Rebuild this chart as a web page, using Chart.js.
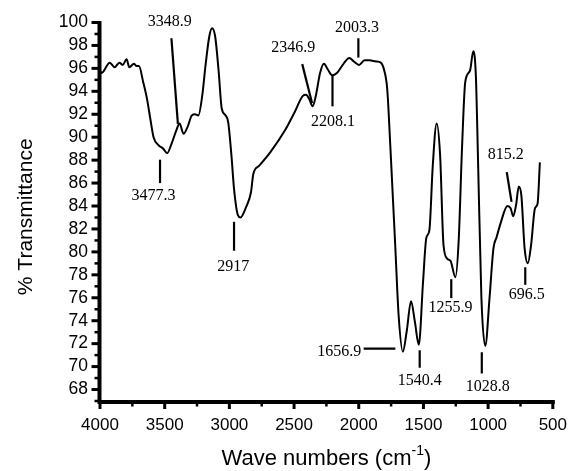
<!DOCTYPE html>
<html>
<head>
<meta charset="utf-8">
<script src="https://cdn.jsdelivr.net/npm/chart.js@4/dist/chart.umd.min.js"></script>
<style>
html,body{margin:0;padding:0;background:#fff;}
#wrap{width:581px;height:471px;}
</style>
</head>
<body>
<div id="wrap"><canvas id="c" width="581" height="471"></canvas></div>
<script>
// Wavenumber (cm-1)
const wavenumbers = [4000,3987,3925,3887,3850,3825,3794,3774,3737,3717,3699,3666,3636,3611,3586,3548,3511,3481,3448,3410,3385,3355,3323,3290,3265,3240,3210,3185,3155,3134,3110,3084,3059,3029,3009,2984,2964,2934,2914,2871,2833,2815,2771,2683,2570,2495,2432,2407,2382,2357,2332,2299,2269,2239,2206,2169,2118,2073,2038,1998,1955,1917,1867,1830,1805,1780,1755,1717,1692,1659,1629,1596,1566,1536,1503,1478,1454,1428,1398,1371,1345,1315,1290,1253,1228,1202,1177,1140,1115,1095,1077,1052,1022,989,959,934,901,851,826,806,784,763,743,718,693,668,638,618,600];
// % Transmittance at each wavenumber
const transmittance = [95.8,95.6,96.5,96.1,96.5,96.3,96.8,96.1,96.4,96.2,96.2,94.8,93.3,91.6,90.0,89.3,89.0,88.6,89.4,90.6,91.2,90.3,90.9,91.9,92.0,91.9,93.6,96.2,98.8,99.5,98.8,95.9,92.5,91.9,91.3,88.4,85.5,83.2,83.0,83.9,85.2,86.8,87.5,88.7,90.6,92.2,93.6,93.7,93.3,92.7,93.6,95.6,96.4,95.9,95.4,95.6,96.4,96.9,96.6,96.3,96.7,96.7,96.6,96.5,95.9,94.2,89.0,80.3,74.5,71.3,73.1,75.7,73.9,71.9,77.4,81.2,81.9,87.5,91.2,88.4,80.6,79.4,79.2,77.8,80.9,89.0,94.8,95.8,97.5,95.4,87.5,76.0,71.8,76.0,80.3,81.3,82.6,84.0,83.8,83.1,84.1,85.7,84.9,80.3,79.0,80.6,83.8,84.2,87.8];

// Tick labels
const xTickLabels = ['4000','3500','3000','2500','2000','1500','1000','500'];
const yTickLabels = ['68','70','72','74','76','78','80','82','84','86','88','90','92','94','96','98','100'];

// Peak annotations
const peakLabels = ['3348.9','3477.3','2917','2346.9','2208.1','2003.3','1656.9','1540.4','1255.9','1028.8','815.2','696.5'];
</script>
<script>
// Annotation geometry in data coordinates: text anchor, leader line start and end
const peakTextAt = [[3460,100.1],[3586,84.9],[2971,78.7],[2507,97.8],[2199,91.3],[2013,99.5],[1981,71.25],[1529,68.8],[1290,75.15],[1002,68.25],[864,88.5],[701,76.3]];
const peakAlign = ['center','center','center','center','center','center','right','center','center','center','center','center'];
const peakLineFrom = [[3448,98.63],[3536,88.04],[2964,82.62],[2437,96.37],[2203,95.36],[2003,98.63],[1962,71.57],[1529,71.42],[1285,77.62],[1049,71.25],[856,86.96],[713,78.66]];
const peakLineTo = [[3398,91.16],[3536,86.0],[2964,80.1],[2361,92.99],[2203,92.69],[2003,96.94],[1717,71.57],[1529,69.9],[1285,75.97],[1049,69.4],[819,84.36],[713,77.13]];

const points = wavenumbers.map((w,i)=>({x:w,y:transmittance[i]}));

const axesPlugin = {
  id:'axesPlugin',
  afterDraw(chart){
    const ctx = chart.ctx;
    const xs = chart.scales.x, ys = chart.scales.y;
    const a = chart.chartArea;
    ctx.save();
    ctx.strokeStyle = '#000';
    ctx.fillStyle = '#000';
    // axis lines
    const ax = a.left - 0.5, ay = a.bottom + 1;
    ctx.lineWidth = 4;
    ctx.beginPath();
    ctx.moveTo(ax, a.top - 1.5); ctx.lineTo(ax, ay + 2);
    ctx.moveTo(ax - 2, ay); ctx.lineTo(a.right + 2, ay);
    ctx.stroke();
    // y ticks
    for (let v = Math.ceil(ys.min); v <= ys.max; v++) {
      const py = ys.getPixelForValue(v);
      const major = v % 2 === 0;
      ctx.lineWidth = major ? 3 : 2.5;
      ctx.beginPath();
      ctx.moveTo(ax - (major ? 8 : 5), py);
      ctx.lineTo(ax, py);
      ctx.stroke();
    }
    // x ticks
    for (let w = 500; w <= 4000; w += 250) {
      const px = xs.getPixelForValue(w);
      const major = w % 500 === 0;
      ctx.lineWidth = major ? 3 : 2.5;
      ctx.beginPath();
      ctx.moveTo(px, ay);
      ctx.lineTo(px, ay + (major ? 7 : 4.5));
      ctx.stroke();
    }
    // peak annotations
    ctx.lineWidth = 2.2;
    ctx.font = '16px "Liberation Serif", "Times New Roman", serif';
    ctx.textBaseline = 'middle';
    peakLabels.forEach((lab,i)=>{
      ctx.beginPath();
      ctx.moveTo(xs.getPixelForValue(peakLineFrom[i][0]), ys.getPixelForValue(peakLineFrom[i][1]));
      ctx.lineTo(xs.getPixelForValue(peakLineTo[i][0]), ys.getPixelForValue(peakLineTo[i][1]));
      ctx.stroke();
      ctx.textAlign = peakAlign[i];
      ctx.fillText(lab, xs.getPixelForValue(peakTextAt[i][0]), ys.getPixelForValue(peakTextAt[i][1]));
    });
    // axis titles
    ctx.font = '21px "Liberation Sans", Arial, sans-serif';
    ctx.textAlign = 'center';
    ctx.save();
    ctx.translate(26, (a.top + a.bottom) / 2 + 5);
    ctx.rotate(-Math.PI / 2);
    ctx.fillText('% Transmittance', 0, 0);
    ctx.restore();
    const main = 'Wave numbers (cm';
    const sup = '-1';
    const close = ')';
    const big = '22px "Liberation Sans", Arial, sans-serif';
    const small = '14px "Liberation Sans", Arial, sans-serif';
    ctx.font = big;
    const w1 = ctx.measureText(main).width;
    const w3 = ctx.measureText(close).width;
    ctx.font = small;
    const w2 = ctx.measureText(sup).width;
    let sx = (a.left + a.right) / 2 - (w1 + w2 + w3) / 2;
    const by = 465;
    ctx.textAlign = 'left';
    ctx.textBaseline = 'alphabetic';
    ctx.font = big;
    ctx.fillText(main, sx, by);
    ctx.font = small;
    ctx.fillText(sup, sx + w1, by - 10);
    ctx.font = big;
    ctx.fillText(close, sx + w1 + w2, by);
    ctx.restore();
  }
};

new Chart(document.getElementById('c'), {
  type:'line',
  data:{
    datasets:[{
      data: points,
      borderColor:'#000',
      borderWidth:2,
      pointRadius:0,
      fill:false,
      cubicInterpolationMode:'monotone'
    }]
  },
  options:{
    responsive:false,
    devicePixelRatio:1,
    animation:false,
    layout:{padding:{left:0,right:16,top:21,bottom:0}},
    plugins:{legend:{display:false},tooltip:{enabled:false}},
    scales:{
      x:{
        type:'linear', reverse:true, min:500, max:4000,
        grid:{display:false, drawTicks:false},
        border:{display:false},
        afterFit(s){ s.height = 70; },
        ticks:{
          stepSize:500, autoSkip:false, maxRotation:0, padding:14,
          color:'#000',
          font:{family:'"Liberation Sans", Arial, sans-serif', size:17},
          callback:(v)=>{ const s = String(v); return xTickLabels.includes(s) ? s : ''; }
        }
      },
      y:{
        type:'linear', min:67, max:100,
        grid:{display:false, drawTicks:false},
        border:{display:false},
        afterFit(s){ s.width = 100; },
        ticks:{
          stepSize:1, autoSkip:false, padding:12,
          color:'#000',
          font:{family:'"Liberation Sans", Arial, sans-serif', size:17.5},
          callback:(v)=>{ const s = String(v); return yTickLabels.includes(s) ? s : ''; }
        }
      }
    }
  },
  plugins:[axesPlugin]
});
</script>
</body>
</html>
